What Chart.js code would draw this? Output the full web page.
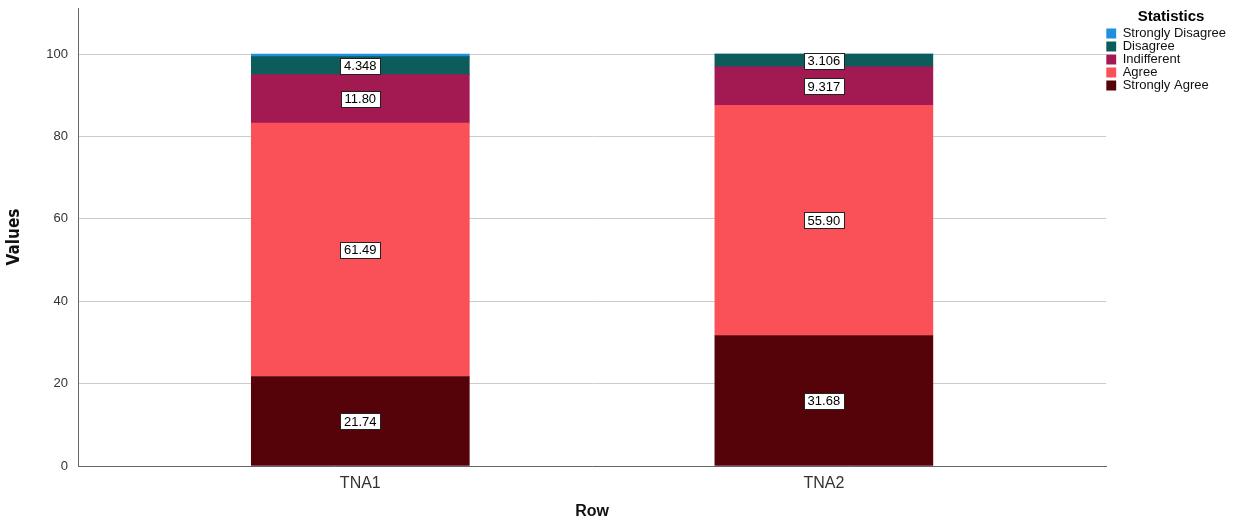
<!DOCTYPE html>
<html>
<head>
<meta charset="utf-8">
<title>Statistics by Row</title>
<script src="https://cdn.jsdelivr.net/npm/chart.js@4.4.1/dist/chart.umd.min.js"></script>
<style>
  html, body { margin: 0; padding: 0; background: #ffffff; }
  #wrap { width: 1245px; height: 523px; position: relative; }
</style>
</head>
<body>
<div id="wrap"><canvas id="chart" width="1245" height="523"></canvas></div>
<script>
// Categories along the x axis
const rows = ['TNA1', 'TNA2'];

// Percentages per response category (bottom of the stack first)
const stronglyAgree    = [21.74, 31.68];
const agree            = [61.49, 55.90];
const indifferent      = [11.80, 9.317];
const disagree         = [4.348, 3.106];
const stronglyDisagree = [0.622, 0];

const seriesNames  = ['Strongly Agree', 'Agree', 'Indifferent', 'Disagree', 'Strongly Disagree'];
const seriesValues = [stronglyAgree, agree, indifferent, disagree, stronglyDisagree];
const seriesColors = ['#550309', '#f95157', '#a31a52', '#0d5c5c', '#1f8fe0'];

const yTicks = [0, 20, 40, 60, 80, 100];

const datasets = seriesNames.map((name, i) => ({
  label: name,
  data: seriesValues[i].map((v, j) => ({ x: j, y: v })),
  backgroundColor: seriesColors[i],
  borderWidth: 0,
  barThickness: 218,
  showLabel: name !== 'Strongly Disagree'
}));

// Boxed value labels in the middle of each segment
const segmentLabels = {
  id: 'segmentLabels',
  afterDatasetsDraw(chart) {
    const ctx = chart.ctx;
    ctx.save();
    ctx.font = '13px "Liberation Sans", Arial, sans-serif';
    ctx.textAlign = 'center';
    ctx.textBaseline = 'middle';
    chart.data.datasets.forEach((ds, di) => {
      if (!ds.showLabel) return;
      const meta = chart.getDatasetMeta(di);
      meta.data.forEach((bar, k) => {
        const v = ds.data[k].y;
        if (!v) return;
        const { x, y, base } = bar.getProps(['x', 'y', 'base'], true);
        const cy = (y + base) / 2;
        const txt = v.toPrecision(4);
        const w = Math.round(ctx.measureText(txt).width) + 7;
        const h = 16;
        const bx = Math.round(x - w / 2) + 0.5;
        const by = Math.round(cy - h / 2) + 0.5;
        ctx.fillStyle = '#ffffff';
        ctx.fillRect(bx, by, w, h);
        ctx.strokeStyle = '#222222';
        ctx.lineWidth = 1;
        ctx.strokeRect(bx, by, w, h);
        ctx.fillStyle = '#000000';
        ctx.fillText(txt, x, cy + 1);
      });
    });
    ctx.restore();
  }
};

new Chart(document.getElementById('chart'), {
  type: 'bar',
  data: { datasets },
  plugins: [segmentLabels],
  options: {
    responsive: false,
    animation: false,
    layout: { padding: { left: 4, top: 8, right: 9, bottom: 2 } },
    plugins: {
      tooltip: { enabled: false },
      legend: {
        position: 'right',
        align: 'start',
        reverse: true,
        title: {
          display: true,
          text: 'Statistics',
          color: '#000000',
          padding: { top: 1, bottom: 0 },
          font: { family: '"Liberation Sans", Arial, sans-serif', size: 15, weight: 'bold' }
        },
        labels: {
          boxWidth: 10,
          boxHeight: 10,
          padding: 0,
          color: '#111111',
          font: { family: '"Liberation Sans", Arial, sans-serif', size: 13, lineHeight: 1.04 }
        }
      }
    },
    scales: {
      x: {
        type: 'linear',
        stacked: true,
        offset: false,
        min: -0.609,
        max: 1.609,
        afterBuildTicks(scale) { scale.ticks = rows.map((_, i) => ({ value: i })); },
        afterFit(scale) { scale.height = 55; scale.paddingLeft = 0; scale.paddingRight = 0; },
        grid: { display: false, drawTicks: false, offset: false },
        border: { display: true, color: '#666666', width: 1 },
        ticks: {
          padding: 8,
          color: '#333333',
          font: { family: '"Liberation Sans", Arial, sans-serif', size: 16 },
          callback: (v) => rows[v] ?? ''
        },
        title: {
          display: true,
          text: 'Row',
          color: '#111111',
          padding: { top: 12, bottom: 0 },
          font: { family: '"Liberation Sans", Arial, sans-serif', size: 16, weight: 'bold' }
        }
      },
      y: {
        stacked: true,
        min: 0,
        max: 111.2,
        afterBuildTicks(scale) { scale.ticks = yTicks.map(v => ({ value: v })); },
        afterFit(scale) { scale.width = 74; scale.paddingTop = 0; scale.paddingBottom = 0; },
        grid: { color: '#cccccc', lineWidth: 1, drawTicks: false },
        border: { display: true, color: '#666666', width: 1 },
        ticks: {
          padding: 10,
          color: '#333333',
          font: { family: '"Liberation Sans", Arial, sans-serif', size: 13 }
        },
        title: {
          display: true,
          text: 'Values',
          color: '#111111',
          padding: { top: 0, bottom: 8 },
          font: { family: '"Liberation Sans Narrow", "DejaVu Sans Condensed", Arial, sans-serif', size: 17, weight: 'bold' }
        }
      }
    }
  }
});
</script>
</body>
</html>
